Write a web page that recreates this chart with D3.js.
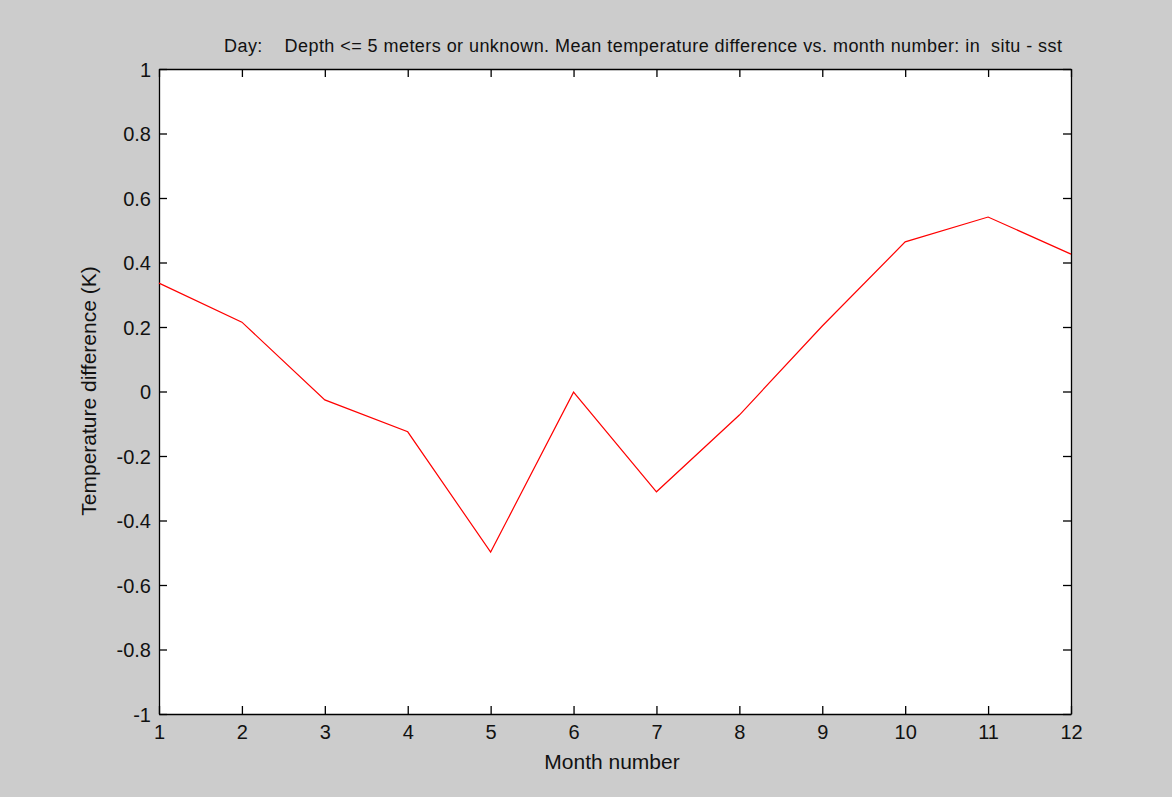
<!DOCTYPE html>
<html><head><meta charset="utf-8">
<script src="https://cdn.jsdelivr.net/npm/d3@7"></script>
<style>html,body{margin:0;padding:0;background:#cccccc;} svg{display:block;} text{font-family:"Liberation Sans",Arial,sans-serif;}</style>
</head><body>
<svg id="chart" width="1172" height="797"></svg>
<script>
const months = [1,2,3,4,5,6,7,8,9,10,11,12];
const tempDiff = [0.336, 0.215, -0.026, -0.125, -0.498, -0.002, -0.311, -0.073, 0.203, 0.464, 0.541, 0.426];
const xTicks = [1,2,3,4,5,6,7,8,9,10,11,12];
const yTicks = [-1,-0.8,-0.6,-0.4,-0.2,0,0.2,0.4,0.6,0.8,1];
const titleText = "Day:    Depth <= 5 meters or unknown. Mean temperature difference vs. month number: in  situ - sst";
const xLabel = "Month number";
const yLabel = "Temperature difference (K)";

const svg = d3.select("#chart");
const m = {l:159, r:1071, t:69, b:714};
const x = d3.scaleLinear().domain([1,12]).range([m.l, m.r]);
const y = d3.scaleLinear().domain([-1,1]).range([m.b, m.t]);

svg.append("rect").attr("x",0).attr("y",0).attr("width",1172).attr("height",797).attr("fill","#cccccc");
svg.append("rect").attr("x",m.l).attr("y",m.t).attr("width",m.r-m.l).attr("height",m.b-m.t).attr("fill","#ffffff");

const fmt = d => String(d);
const tl = 8;
const fs = 20;
const bx = svg.append("g").attr("transform",`translate(0,${m.b})`)
  .call(d3.axisBottom(x).tickValues(xTicks).tickSize(-tl).tickPadding(11).tickSizeOuter(0).tickFormat(d=>d));
const tx = svg.append("g").attr("transform",`translate(0,${m.t})`)
  .call(d3.axisTop(x).tickValues(xTicks).tickSize(-tl).tickSizeOuter(0).tickFormat(""));
const ly = svg.append("g").attr("transform",`translate(${m.l},0)`)
  .call(d3.axisLeft(y).tickValues(yTicks).tickSize(-tl).tickPadding(8).tickSizeOuter(0).tickFormat(fmt));
const ry = svg.append("g").attr("transform",`translate(${m.r},0)`)
  .call(d3.axisRight(y).tickValues(yTicks).tickSize(-tl).tickSizeOuter(0).tickFormat(""));

[bx,tx,ly,ry].forEach(g=>{
  g.selectAll("path.domain").attr("stroke","#000").attr("stroke-width",1.3);
  g.selectAll(".tick line").attr("stroke","#000").attr("stroke-width",1.3);
  g.selectAll(".tick text").attr("fill","#111").attr("font-size",fs).attr("font-family","Liberation Sans, Arial, sans-serif");
});
bx.selectAll(".tick text").attr("dy","0.72em");
ly.selectAll(".tick text").attr("dy","0.36em");

const line = d3.line().x((d,i)=>x(months[i])).y(d=>y(d));
svg.append("path").datum(tempDiff).attr("d",line).attr("fill","none").attr("stroke","#ff0000").attr("stroke-width",1.2);

svg.append("text").attr("x",643).attr("y",52).attr("text-anchor","middle").attr("font-size",18).attr("fill","#111")
  .style("white-space","pre").attr("xml:space","preserve").attr("textLength",838).attr("lengthAdjust","spacing").text(titleText);
svg.append("text").attr("x",612).attr("y",769).attr("text-anchor","middle").attr("font-size",21).attr("fill","#111").text(xLabel);
svg.append("text").attr("transform",`translate(96,391) rotate(-90)`).attr("text-anchor","middle").attr("font-size",21).attr("fill","#111").text(yLabel);
</script>
</body></html>
